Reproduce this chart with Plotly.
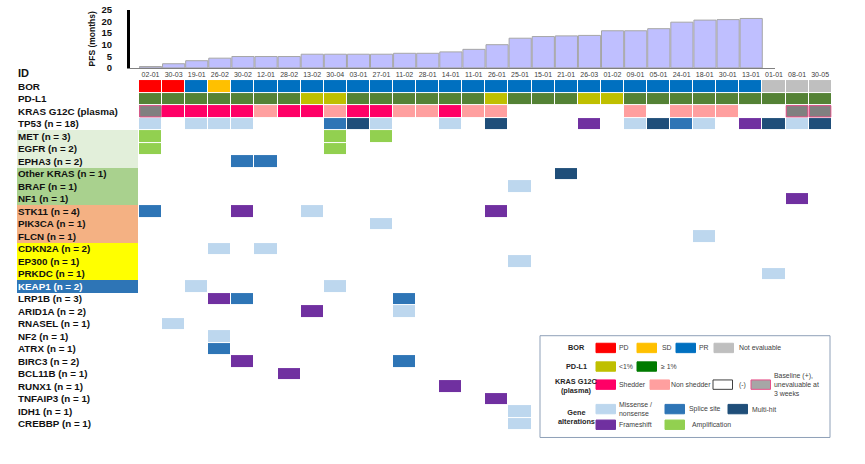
import plotly.graph_objects as go

W, H = 865, 464

ids = ["02-01", "30-03", "19-01", "26-02", "30-02", "12-01", "28-02", "13-02", "30-04", "03-01",
       "27-01", "11-02", "28-01", "14-01", "11-01", "26-01", "25-01", "15-01", "21-01", "26-03",
       "01-02", "09-01", "05-01", "24-01", "18-01", "30-01", "13-01", "01-01", "08-01", "30-05"]

pfs = [0.6, 1.8, 3.1, 4.2, 4.9, 4.9, 4.9, 5.9, 5.9, 5.9,
       5.9, 6.3, 6.3, 6.9, 8.0, 10.0, 12.8, 13.5, 13.8, 14.0,
       16.0, 16.0, 16.9, 19.7, 20.6, 20.8, 21.3, None, None, None]

bor = ["PD", "PD", "PR", "SD", "PR", "PR", "PR", "PR", "PR", "PR",
       "PR", "PR", "PR", "PR", "PR", "PR", "PR", "PR", "PR", "PR",
       "PR", "PR", "PR", "PR", "PR", "PR", "PR", "NE", "NE", "NE"]

pdl1 = ["pos", "pos", "pos", "pos", "pos", "pos", "pos", "neg", "neg", "pos",
        "pos", "pos", "pos", "pos", "pos", "neg", "pos", "pos", "pos", "neg",
        "neg", "pos", "pos", "pos", "pos", "pos", "pos", "pos", "pos", "pos"]

kras = ["B", "S", "S", "S", "S", "N", "S", "S", "N", "S",
        "S", "N", "N", "S", "N", "N", "-", "-", "-", "-",
        "-", "N", "-", "N", "N", "N", "-", "-", "B", "B"]

genes = [
    ("TP53", {"02-01": "mis", "19-01": "mis", "26-02": "mis", "30-02": "mis", "30-04": "spl",
              "03-01": "multi", "27-01": "mis", "14-01": "mis", "26-01": "multi", "26-03": "fs",
              "09-01": "mis", "05-01": "multi", "24-01": "spl", "18-01": "mis", "13-01": "fs",
              "01-01": "multi", "08-01": "mis", "30-05": "multi"}),
    ("MET", {"02-01": "amp", "30-04": "amp", "27-01": "amp"}),
    ("EGFR", {"02-01": "amp", "30-04": "amp"}),
    ("EPHA3", {"30-02": "spl", "12-01": "spl"}),
    ("Other KRAS", {"21-01": "multi"}),
    ("BRAF", {"25-01": "mis"}),
    ("NF1", {"08-01": "fs"}),
    ("STK11", {"02-01": "spl", "30-02": "fs", "13-02": "mis", "26-01": "fs"}),
    ("PIK3CA", {"27-01": "mis"}),
    ("FLCN", {"18-01": "mis"}),
    ("CDKN2A", {"26-02": "mis", "12-01": "mis"}),
    ("EP300", {"25-01": "mis"}),
    ("PRKDC", {"01-01": "mis"}),
    ("KEAP1", {"19-01": "mis", "30-04": "mis"}),
    ("LRP1B", {"26-02": "fs", "30-02": "spl", "11-02": "spl"}),
    ("ARID1A", {"13-02": "fs", "11-02": "mis"}),
    ("RNASEL", {"30-03": "mis"}),
    ("NF2", {"26-02": "mis"}),
    ("ATRX", {"26-02": "spl"}),
    ("BIRC3", {"30-02": "fs", "11-02": "spl"}),
    ("BCL11B", {"28-02": "fs"}),
    ("RUNX1", {"14-01": "fs"}),
    ("TNFAIP3", {"26-01": "fs"}),
    ("IDH1", {"25-01": "mis"}),
    ("CREBBP", {"25-01": "mis"}),
]

# gene-label background groups
label_groups = {"MET": "g1", "EGFR": "g1", "EPHA3": "g1",
                "Other KRAS": "g2", "BRAF": "g2", "NF1": "g2",
                "STK11": "g3", "PIK3CA": "g3", "FLCN": "g3",
                "CDKN2A": "g4", "EP300": "g4", "PRKDC": "g4",
                "KEAP1": "g5"}
group_colors = {"g1": "#E2EFDA", "g2": "#A9D18E", "g3": "#F4B183", "g4": "#FFFF00", "g5": "#2E75B6"}

cat_colors = {"PD": "#FF0000", "SD": "#FFC000", "PR": "#0070C0", "NE": "#BFBFBF",
              "neg": "#BFBF00", "pos": "#548235",
              "S": "#FF0066", "N": "#FF9F9F", "B": "#808080",
              "mis": "#BDD7EE", "spl": "#2E75B6", "multi": "#1F4E79", "fs": "#7030A0", "amp": "#92D050"}

FONT = "Liberation Sans, Arial, sans-serif"


def X(px):
    return px / W


def Y(py):
    return 1 - py / H


cats = list(cat_colors.keys())
ncat = len(cats)
cscale = []
for i, c in enumerate(cats):
    cscale.append([i / ncat, cat_colors[c]])
    cscale.append([(i + 1) / ncat, cat_colors[c]])

row_labels = ["BOR", "PD-L1", "KRAS G12C (plasma)"] + [f"{g} (n = {len(d)})" for g, d in genes]
row_codes = [bor, pdl1, kras] + [[d.get(p) for p in ids] for g, d in genes]
z = [[(cats.index(v) if v in cat_colors else None) for v in row] for row in row_codes]

fig = go.Figure()

# PFS bars
fig.add_trace(go.Bar(x=ids, y=pfs, xaxis="x", yaxis="y",
                     marker=dict(color="#BFBFFF", line=dict(color="#A6A6A6", width=1)),
                     hoverinfo="skip", showlegend=False))

# label backgrounds
bg_keys = list(group_colors.keys())
bg_scale = []
for i, k in enumerate(bg_keys):
    bg_scale.append([i / len(bg_keys), group_colors[k]])
    bg_scale.append([(i + 1) / len(bg_keys), group_colors[k]])
bg_z = [[None], [None], [None]] + [[bg_keys.index(label_groups[g]) if g in label_groups else None] for g, d in genes]
fig.add_trace(go.Heatmap(z=bg_z, x=["lab"], y=row_labels, xaxis="x3", yaxis="y2",
                         colorscale=bg_scale, zmin=-0.5, zmax=len(bg_keys) - 0.5,
                         showscale=False, hoverinfo="skip", xgap=0, ygap=0))

# oncoprint cells
fig.add_trace(go.Heatmap(z=z, x=ids, y=row_labels, xaxis="x2", yaxis="y2",
                         colorscale=cscale, zmin=-0.5, zmax=ncat - 0.5,
                         showscale=False, hoverinfo="skip", xgap=1, ygap=1))

shapes = []
# pink border for baseline(+) unevaluable cells
krow = row_labels.index("KRAS G12C (plasma)")
for i, v in enumerate(kras):
    if v == "B":
        shapes.append(dict(type="rect", xref="x2", yref="y2", x0=i - 0.47, x1=i + 0.47,
                           y0=krow - 0.45, y1=krow + 0.45, line=dict(color="#E8508A", width=1),
                           fillcolor="rgba(0,0,0,0)"))

annotations = []
# row labels
for lab in row_labels:
    g = lab.split(" (n")[0]
    col = "white" if label_groups.get(g) == "g5" else "#111111"
    size = 9.9 if lab in ("BOR", "PD-L1", "KRAS G12C (plasma)") else 9.8
    annotations.append(dict(x=X(16), y=lab, xref="paper", yref="y2", xanchor="left", yanchor="middle",
                            text=f"<b>{lab}</b>", showarrow=False,
                            font=dict(family=FONT, size=size, color=col)))
annotations.append(dict(x=X(16), y=Y(70), xref="paper", yref="paper", xanchor="left", yanchor="middle",
                        text="<b>ID</b>", showarrow=False, font=dict(family=FONT, size=11, color="#111111")))

# legend
shapes.append(dict(type="rect", xref="paper", yref="paper", x0=X(540), x1=X(830), y0=Y(338), y1=Y(442),
                   line=dict(color="#8EA0B8", width=1), fillcolor="white", layer="below"))
legend_sections = [("BOR", 350), ("PD-L1", 369.5), ("KRAS G12C<br>(plasma)", 389), ("Gene<br>alterations", 421)]
for txt, yc in legend_sections:
    annotations.append(dict(x=X(576), y=Y(yc), xref="paper", yref="paper", xanchor="center", yanchor="middle",
                            text=f"<b>{txt}</b>", showarrow=False,
                            font=dict(family=FONT, size=7.3, color="#262626")))
legend_items = [
    (596, 350.5, "#FF0000", None, "PD", 617),
    (637, 350.5, "#FFC000", None, "SD", 660),
    (676, 350.5, "#0070C0", None, "PR", 697),
    (714, 350.5, "#BFBFBF", None, "Not evaluable", 737),
    (596, 369.5, "#BFBF00", None, "<1%", 617),
    (637, 369.5, "#007A00", None, "≥ 1%", 659),
    (596, 388, "#FF0066", None, "Shedder", 617),
    (650, 388, "#FF9F9F", None, "Non shedder", 669),
    (713, 388, "#FFFFFF", "#404040", "(-)", 737),
    (751, 388, "#A6A6A6", "#E8508A", "Baseline (+),<br>unevaluable at<br>3 weeks", 772),
    (596, 413, "#BDD7EE", None, "Missense /<br>nonsense", 617),
    (665, 413, "#2E75B6", None, "Splice site", 687),
    (728, 413, "#1F4E79", None, "Multi-hit", 750),
    (596, 429, "#7030A0", None, "Frameshift", 617),
    (665, 429, "#92D050", None, "Amplification", 690),
]
for x0, yc, fc, lc, txt, tx in legend_items:
    shapes.append(dict(type="rect", xref="paper", yref="paper", x0=X(x0), x1=X(x0 + 19.5),
                       y0=Y(yc - 4.8), y1=Y(yc + 4.8), fillcolor=fc,
                       line=dict(color=lc if lc else fc, width=1)))
    annotations.append(dict(x=X(tx), y=Y(yc), xref="paper", yref="paper", xanchor="left", yanchor="middle",
                            text=txt, showarrow=False, align="left",
                            font=dict(family=FONT, size=6.9, color="#404040")))

fig.update_layout(
    width=W, height=H, margin=dict(l=0, r=0, t=0, b=0),
    paper_bgcolor="white", plot_bgcolor="white", bargap=0.04,
    font=dict(family=FONT),
    xaxis=dict(domain=[X(130), X(775)], range=[-0.89, 27.03], type="category",
               categoryorder="array", categoryarray=ids,
               showticklabels=False, showgrid=False, zeroline=False,
               showline=True, linecolor="#808080", linewidth=1, ticks=""),
    yaxis=dict(domain=[Y(64.3), Y(4.8)], range=[0, 25.08], tickvals=[0, 5, 10, 15, 20, 25],
               showgrid=False, zeroline=False, showline=True, linecolor="black", linewidth=3,
               ticks="", ticklabelstandoff=13, ticklabeloverflow="allow",
               tickfont=dict(family=FONT, size=9.5, color="#111111", weight="bold"),
               title=dict(text="PFS (months)", standoff=5,
                          font=dict(family=FONT, size=8.5, color="#111111", weight="bold"))),
    xaxis2=dict(domain=[X(139), X(831.7)], range=[-0.5, 29.5], type="category",
                categoryorder="array", categoryarray=ids, anchor="y2", side="top",
                showgrid=False, zeroline=False, showline=False, ticks="",
                tickfont=dict(family=FONT, size=7, color="#404040"), ticklabelstandoff=1),
    yaxis2=dict(domain=[Y(434.5), Y(76.7)], type="category", categoryorder="array",
                categoryarray=row_labels, range=[len(row_labels) - 0.5, -0.5],
                showticklabels=False, showgrid=False, zeroline=False, showline=False, ticks="",
                anchor="x2"),
    xaxis3=dict(domain=[X(17), X(138)], range=[-0.5, 0.5], showticklabels=False, showgrid=False,
                zeroline=False, showline=False, ticks="", anchor="y2"),
    shapes=shapes, annotations=annotations,
)

fig.write_html("out.html", config={"displayModeBar": False},
               post_script="document.body.style.margin='0';")
